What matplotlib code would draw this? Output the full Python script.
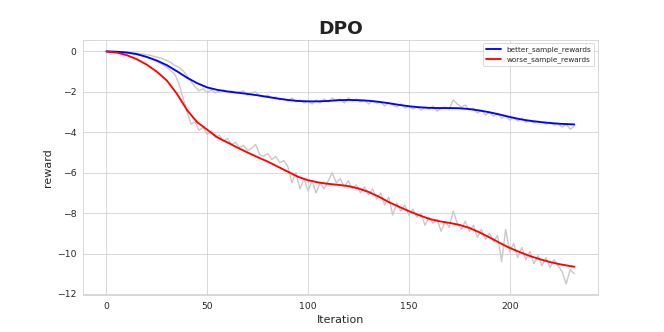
import numpy as np
import matplotlib
matplotlib.use("Agg")
import matplotlib.pyplot as plt
import seaborn as sns

# raw rewards sampled every 2 iterations
raw_iters = list(range(0, 233, 2))
better_raw = [0, 0.0, -0.01, -0.02, -0.03, -0.04, -0.06, -0.08, -0.1, -0.13,
              -0.16, -0.2, -0.26, -0.3, -0.36, -0.45, -0.55, -0.7, -0.78, -0.95,
              -1.2, -1.5, -1.75, -1.95, -1.85, -2.05, -1.9, -2.05, -1.95, -1.9,
              -2.0, -1.95, -2.05, -2.0, -1.95, -2.15, -2.05, -2.0, -2.2, -2.25,
              -2.15, -2.3, -2.25, -2.4, -2.35, -2.45, -2.3, -2.5, -2.4, -2.55,
              -2.45, -2.6, -2.4, -2.55, -2.35, -2.5, -2.3, -2.45, -2.35, -2.55,
              -2.3, -2.45, -2.35, -2.5, -2.4, -2.6, -2.45, -2.55, -2.5, -2.7,
              -2.55, -2.65, -2.75, -2.6, -2.8, -2.7, -2.85, -2.75, -2.9, -2.75,
              -2.85, -2.7, -2.95, -2.8, -2.75, -2.85, -2.4, -2.6, -2.75, -2.65,
              -2.9, -2.8, -3.05, -2.9, -3.15, -3.0, -3.2, -3.05, -3.3, -3.15,
              -3.4, -3.25, -3.45, -3.3, -3.5, -3.4, -3.55, -3.45, -3.5, -3.6,
              -3.5, -3.65, -3.55, -3.75, -3.6, -3.85, -3.7]
worse_raw = [0, -0.01, -0.02, -0.04, -0.06, -0.08, -0.1, -0.13, -0.17, -0.22,
             -0.28, -0.35, -0.45, -0.55, -0.65, -0.8, -0.95, -1.15, -1.6, -2.3,
             -3.0, -3.6, -3.5, -3.9, -3.75, -4.1, -3.95, -4.25, -4.15, -4.45,
             -4.3, -4.6, -4.5, -4.75, -4.65, -4.9, -4.8, -4.6, -5.1, -5.2,
             -5.05, -5.35, -5.2, -5.5, -5.4, -5.7, -6.5, -6.0, -6.8, -6.3,
             -6.9, -6.4, -7.0, -6.5, -6.8, -6.4, -6.0, -6.5, -6.3, -6.7,
             -6.4, -6.8, -6.6, -7.0, -6.7, -7.1, -6.8, -7.3, -7.0, -7.6,
             -7.2, -8.1, -7.5, -7.9, -7.6, -8.1, -7.8, -8.2, -8.0, -8.6,
             -8.2, -8.5, -8.3, -8.9, -8.4, -8.7, -7.9, -8.5, -8.8, -8.4,
             -8.9, -8.6, -9.2, -8.8, -9.3, -9.0, -9.4, -9.1, -10.4, -8.8,
             -9.9, -9.5, -10.2, -9.7, -10.3, -9.9, -10.5, -10.1, -10.6, -10.2,
             -10.7, -10.3, -10.6, -10.9, -11.5, -10.8, -11.0]

# smoothed rewards sampled every 5 iterations
smooth_iters = list(range(0, 231, 5)) + [232]
better_smooth = [0, -0.01, -0.05, -0.13, -0.27, -0.45, -0.68, -0.98, -1.3, -1.57,
                 -1.78, -1.9, -1.98, -2.04, -2.1, -2.17, -2.25, -2.33, -2.4, -2.45,
                 -2.47, -2.47, -2.45, -2.41, -2.4, -2.41, -2.44, -2.49, -2.56, -2.64,
                 -2.71, -2.76, -2.79, -2.8, -2.8, -2.81, -2.85, -2.92, -3.01, -3.12,
                 -3.24, -3.35, -3.43, -3.49, -3.54, -3.58, -3.6, -3.61]
worse_smooth = [0, -0.05, -0.18, -0.38, -0.65, -1.0, -1.44, -2.1, -2.9, -3.5,
                -3.87, -4.25, -4.5, -4.76, -5.0, -5.23, -5.45, -5.7, -5.95, -6.2,
                -6.37, -6.48, -6.55, -6.6, -6.66, -6.78, -6.95, -7.18, -7.45, -7.68,
                -7.9, -8.1, -8.28, -8.4, -8.48, -8.58, -8.73, -8.95, -9.2, -9.47,
                -9.72, -9.93, -10.12, -10.28, -10.42, -10.53, -10.62, -10.65]

sns.set_style("whitegrid")
plt.rcParams['font.family'] = ['DejaVu Sans']

fig, ax = plt.subplots(figsize=(10, 5), dpi=66.4)
ax.plot(raw_iters, better_raw, color='#c8c8c8', lw=1.5)
ax.plot(raw_iters, worse_raw, color='#c8c8c8', lw=1.5)
ax.plot(smooth_iters, better_smooth, color='blue', lw=2, label='better_sample_rewards')
ax.plot(smooth_iters, worse_smooth, color='red', lw=2, label='worse_sample_rewards')

ax.set_title('DPO', fontsize=20, fontweight='bold', color='#222222')
ax.set_xlabel('Iteration', fontsize=12)
ax.set_ylabel('reward', fontsize=12)
ax.tick_params(labelsize=10)
ax.set_xticks([0, 50, 100, 150, 200])
ax.set_yticks([0, -2, -4, -6, -8, -10, -12])
ax.legend(loc='upper right', fontsize=7.8)

fig.savefig('out.png', dpi=66.4)
